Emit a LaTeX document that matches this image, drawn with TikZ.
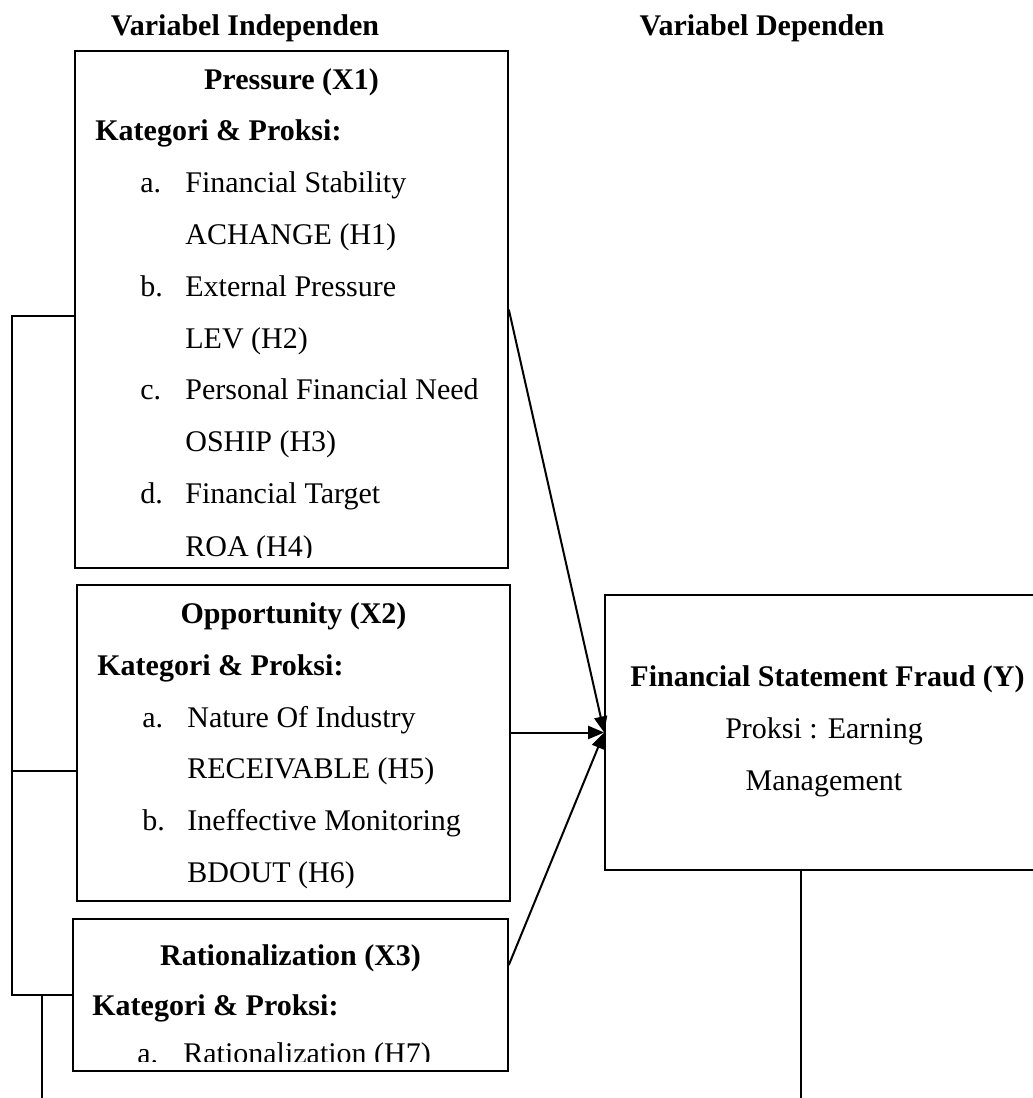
\documentclass[tikz,border=0pt]{standalone}
\usepackage{fontspec}
\setmainfont{Liberation Serif}
\usepackage{tikz}
\usetikzlibrary{arrows.meta, positioning}

\tikzset{
  kotak/.style={draw, line width=0.8pt, inner sep=0pt},
  teks/.style={anchor=base west, inner sep=0pt, font=\fontsize{15}{18}\selectfont},
  judul/.style={anchor=base, inner sep=0pt, font=\fontsize{15}{18}\selectfont\bfseries},
  garis/.style={line width=0.7pt},
  panah/.style={line width=1pt, -{Triangle[length=8pt,width=6.5pt]}}
}

\begin{document}
\begin{tikzpicture}[x=0.5pt, y=-0.5pt]
\useasboundingbox (0,0) rectangle (1033,1098);
% judul kolom
\node[judul] (indep) at (245,35) {Variabel Independen};
\node[judul] (dep) at (762,35) {Variabel Dependen};
% kotak variabel
\node[kotak, minimum width=216.5pt, minimum height=258.5pt] (x1) at (291.5,309.5) {};
\node[kotak, minimum width=216.5pt, minimum height=158pt] (x2) at (293.5,743) {};
\node[kotak, minimum width=217.5pt, minimum height=76pt] (x3) at (290.5,995) {};
\node[kotak, minimum width=222.5pt, minimum height=137.5pt] (y) at (827.5,732.5) {};
% isi X1
\begin{scope}
\clip (75,51) rectangle (508,557);
\node[judul] (jx1) at (291.5,89) {Pressure (X1)};
\node[teks, font=\fontsize{15}{18}\selectfont\bfseries] (kp1) at (95,140.8) {Kategori \& Proksi:};
\node[teks] (a1) at (140,192.6) {a.};
\node[teks] (a1t) at (185,192.6) {Financial Stability};
\node[teks] (a1p) at (185,244.4) {ACHANGE (H1)};
\node[teks] (b1) at (140,296.2) {b.};
\node[teks] (b1t) at (185,296.2) {External Pressure};
\node[teks] (b1p) at (185,348) {LEV (H2)};
\node[teks] (c1) at (140,399.8) {c.};
\node[teks] (c1t) at (185,399.8) {Personal Financial Need};
\node[teks] (c1p) at (185,451.6) {OSHIP (H3)};
\node[teks] (d1) at (140,503.4) {d.};
\node[teks] (d1t) at (185,503.4) {Financial Target};
\node[teks] (d1p) at (185,556) {ROA (H4)};
\end{scope}
% isi X2
\node[judul] (jx2) at (293.5,623) {Opportunity (X2)};
\node[teks, font=\fontsize{15}{18}\selectfont\bfseries] (kp2) at (97,675) {Kategori \& Proksi:};
\node[teks] (a2) at (142,727) {a.};
\node[teks] (a2t) at (187,727) {Nature Of Industry};
\node[teks] (a2p) at (187,778.5) {RECEIVABLE (H5)};
\node[teks] (b2) at (142,830) {b.};
\node[teks] (b2t) at (187,830) {Ineffective Monitoring};
\node[teks] (b2p) at (187,882) {BDOUT (H6)};
% isi X3
\begin{scope}
\clip (73,919) rectangle (508,1061);
\node[judul] (jx3) at (290.5,965) {Rationalization (X3)};
\node[teks, font=\fontsize{15}{18}\selectfont\bfseries] (kp3) at (92,1015) {Kategori \& Proksi:};
\node[teks] (a3) at (137,1063) {a.};
\node[teks] (a3t) at (183,1063) {Rationalization (H7)};
\end{scope}
% isi Y
\node[judul] (jy) at (827.5,686) {Financial Statement Fraud (Y)};
\node[judul, font=\fontsize{15}{18}\selectfont] (py1) at (824,738) {Proksi : Earning};
\node[judul, font=\fontsize{15}{18}\selectfont] (py2) at (824,790) {Management};
% panah ke Y
\draw[panah] (x1.east) -- (y.west);
\draw[panah] (x2.east |- y.west) -- (y.west);
\draw[panah] ([yshift=15pt]x3.east) -- (y.west);
% garis kiri
\coordinate (k1) at (12,316);
\coordinate (k2) at (12,771);
\coordinate (k3) at (12,995);
\coordinate (ujung1) at (42,1110);
\coordinate (ujung2) at (801,1110);
\draw[garis] (k1 -| x1.west) -- (k1) -- (k3) -- (x3.west);
\draw[garis] (k2) -- (k2 -| x2.west);
\draw[garis] (ujung1 |- k3) -- (ujung1);
\draw[garis] (ujung2 |- y.south) -- (ujung2);
\end{tikzpicture}
\end{document}
